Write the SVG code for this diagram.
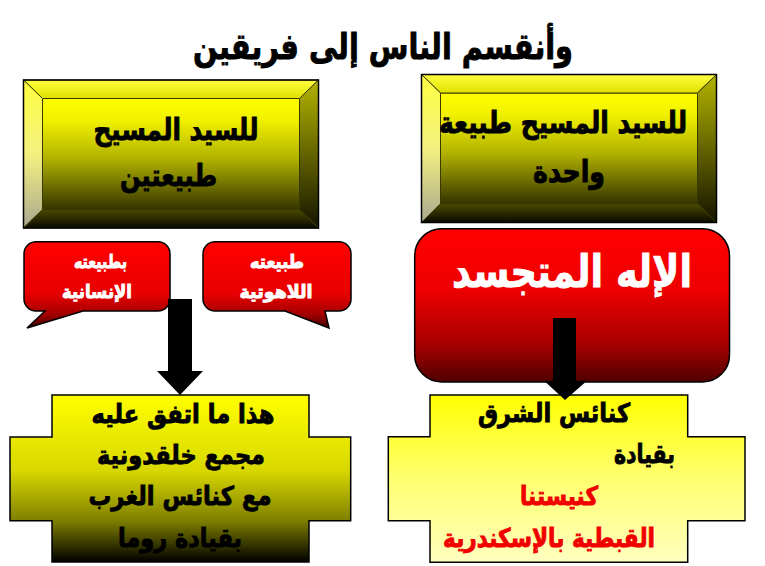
<svg xmlns="http://www.w3.org/2000/svg" width="765" height="566" viewBox="0 0 765 566">
<style>
text{font-family:"DejaVu Sans","Noto Sans",sans-serif;font-weight:bold;text-anchor:middle;direction:rtl;stroke-width:.9;paint-order:stroke}
.o{stroke:#000;stroke-width:1.5}
.edge{stroke:#3a3a00;stroke-width:1}
.k{fill:#000;stroke:#000;font-size:30px}
.w{fill:#fff;stroke:#fff;font-size:18px}
.r{fill:#f00000;stroke:#f00000;font-size:26px}
.b{fill:#000;stroke:#000;font-size:26px}
</style>
<defs>
<linearGradient id="gy" x1="0" y1="0" x2="0" y2="1"><stop offset="0" stop-color="#ffff00"/><stop offset="0.2" stop-color="#f0f000"/><stop offset="0.55" stop-color="#b0b000"/><stop offset="1" stop-color="#343400"/></linearGradient>
<linearGradient id="gyb" x1="0" y1="0" x2="0" y2="1"><stop offset="0" stop-color="#ffff00"/><stop offset="0.45" stop-color="#d8d800"/><stop offset="0.75" stop-color="#808000"/><stop offset="1" stop-color="#000"/></linearGradient>
<linearGradient id="gp" x1="0" y1="0" x2="0" y2="1"><stop offset="0" stop-color="#ffff00"/><stop offset="0.5" stop-color="#ffff70"/><stop offset="1" stop-color="#ffffc0"/></linearGradient>
<linearGradient id="gr" x1="0" y1="0" x2="0" y2="1"><stop offset="0" stop-color="#ff0000"/><stop offset="0.4" stop-color="#ee0000"/><stop offset="0.75" stop-color="#a80000"/><stop offset="1" stop-color="#500000"/></linearGradient>
<linearGradient id="gc" x1="0" y1="0" x2="0" y2="1"><stop offset="0" stop-color="#ff0000"/><stop offset="0.6" stop-color="#e80000"/><stop offset="0.85" stop-color="#a00000"/><stop offset="1" stop-color="#400000"/></linearGradient>
<linearGradient id="gt" x1="0" y1="0" x2="0" y2="1"><stop offset="0" stop-color="#ffff40"/><stop offset="1" stop-color="#e0e000"/></linearGradient>
<linearGradient id="gl" x1="0" y1="0" x2="0" y2="1"><stop offset="0" stop-color="#ffff40"/><stop offset="0.5" stop-color="#f4f080"/><stop offset="1" stop-color="#a8a890"/></linearGradient>
<linearGradient id="gd" x1="0" y1="0" x2="0" y2="1"><stop offset="0" stop-color="#b4b400"/><stop offset="1" stop-color="#141400"/></linearGradient>
<linearGradient id="gb" x1="0" y1="0" x2="0" y2="1"><stop offset="0" stop-color="#4a4a00"/><stop offset="1" stop-color="#0a0a00"/></linearGradient>
<g id="bevel">
<rect x="19" y="18.500" width="257" height="111" fill="url(#gy)" class="edge"/>
<polygon points="0,0 295,0 276,18.500 19,18.500" fill="url(#gt)" class="edge"/>
<polygon points="0,0 19,18.500 19,129.500 0,148" fill="url(#gl)" class="edge"/>
<polygon points="295,0 276,18.500 276,129.500 295,148" fill="url(#gd)" class="edge"/>
<polygon points="0,148 19,129.500 276,129.500 295,148" fill="url(#gb)" class="edge"/>
<rect class="o" x="0" y="0" width="295" height="148" fill="none"/>
</g>
</defs>
<rect width="765" height="566" fill="#fff"/>
<text id="title" x="383" y="59" font-size="36" fill="#000" stroke="#000" textLength="380" lengthAdjust="spacingAndGlyphs">وأنقسم الناس إلى فريقين</text>
<g id="box-two-natures">
<use href="#bevel" x="23.500" y="80"/>
<text class="k" x="176" y="140" textLength="165" lengthAdjust="spacingAndGlyphs">للسيد المسيح</text>
<text class="k" x="168.500" y="186" textLength="97" lengthAdjust="spacingAndGlyphs">طبيعتين</text>
</g>
<g id="box-one-nature">
<use href="#bevel" x="421.500" y="74.500"/>
<text class="k" x="563" y="133" textLength="248" lengthAdjust="spacingAndGlyphs">للسيد المسيح طبيعة</text>
<text class="k" x="569" y="182" textLength="72" lengthAdjust="spacingAndGlyphs">واحدة</text>
</g>
<g id="incarnate">
<rect class="o" x="414.700" y="228.700" width="314.800" height="153.300" rx="27" fill="url(#gr)"/>
<text x="572" y="287" font-size="45" fill="#fff" stroke="#fff" textLength="240" lengthAdjust="spacingAndGlyphs">الإله المتجسد</text>
</g>
<g id="callout-human">
<path class="o" d="M36 241.700H158a12 12 0 0 1 12 12V299a12 12 0 0 1-12 12H83L27 328L45 311H36a12 12 0 0 1-12-12V253.700a12 12 0 0 1 12-12Z" fill="url(#gc)"/>
<text class="w" x="100.500" y="268" textLength="53" lengthAdjust="spacingAndGlyphs">بطبيعته</text>
<text class="w" x="97" y="298" textLength="70" lengthAdjust="spacingAndGlyphs">الإنسانية</text>
</g>
<g id="callout-divine">
<path class="o" d="M215 241.700H339a12 12 0 0 1 12 12V299a12 12 0 0 1-12 12H325L329 328L285 311H215a12 12 0 0 1-12-12V253.700a12 12 0 0 1 12-12Z" fill="url(#gc)"/>
<text class="w" x="277" y="268" textLength="54" lengthAdjust="spacingAndGlyphs">طبيعته</text>
<text class="w" x="276" y="298" textLength="73" lengthAdjust="spacingAndGlyphs">اللاهوتية</text>
</g>
<g id="chalcedon">
<polygon class="o" points="52,395 309,395 309,437 350.700,437 350.700,520.700 309,520.700 309,562 52,562 52,520.700 10,520.700 10,437 52,437" fill="url(#gyb)"/>
<text class="b" x="183" y="423" textLength="183" lengthAdjust="spacingAndGlyphs">هذا ما اتفق عليه</text>
<text class="b" x="181" y="464" textLength="168" lengthAdjust="spacingAndGlyphs">مجمع خلقدونية</text>
<text class="b" x="180" y="505" textLength="183" lengthAdjust="spacingAndGlyphs">مع كنائس الغرب</text>
<text class="b" x="180" y="547" textLength="124" lengthAdjust="spacingAndGlyphs">بقيادة روما</text>
</g>
<g id="east">
<polygon class="o" points="430,395 687.700,395 687.700,436.700 745,436.700 745,520.700 687.700,520.700 687.700,562.300 430,562.300 430,520.700 388.300,520.700 388.300,436.700 430,436.700" fill="url(#gp)"/>
<text class="b" x="554" y="422" textLength="152" lengthAdjust="spacingAndGlyphs">كنائس الشرق</text>
<text class="b" x="644.500" y="463" textLength="61" lengthAdjust="spacingAndGlyphs">بقيادة</text>
<text class="r" x="559" y="505" textLength="78" lengthAdjust="spacingAndGlyphs">كنيستنا</text>
<text class="r" x="549" y="547" textLength="212" lengthAdjust="spacingAndGlyphs">القبطية بالإسكندرية</text>
</g>
<g id="connectors" fill="#000">
<polygon points="168,299 192,299 192,371 203,371 180,395 157,371 168,371"/>
<polygon points="553,318 576,318 576,380.700 587,380.700 565,400 544,380.700 553,380.700"/>
</g>
</svg>
